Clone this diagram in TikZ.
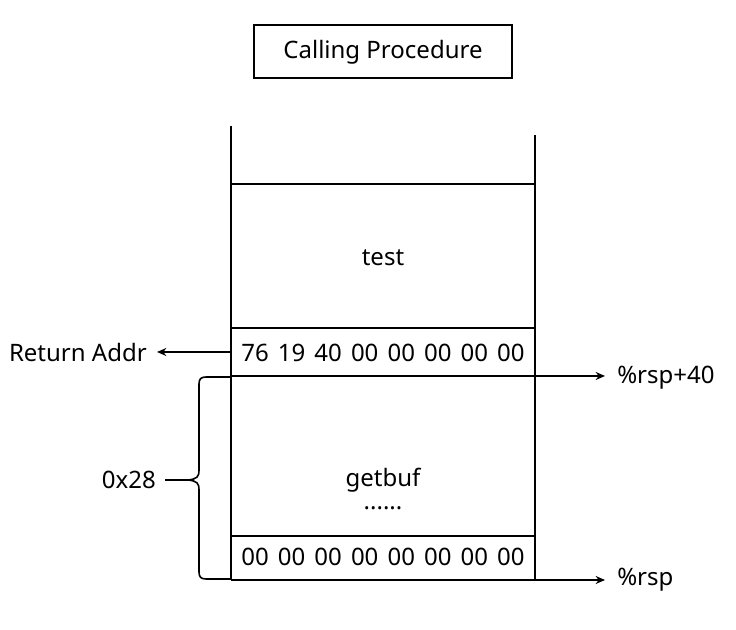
\documentclass[tikz,border=0pt]{standalone}
\usepackage{fontspec}
\setmainfont{Noto Sans}
\usetikzlibrary{arrows.meta}
\newcommand{\widebytes}[1]{{\spaceskip=6.8pt\relax #1}}
\begin{document}
\begin{tikzpicture}[x=0.75pt,y=-0.75pt,
  wall/.style={line width=1.5pt},
  arr/.style={line width=1.5pt,-{Stealth[length=7pt,width=6pt]}},
  txt/.style={font=\fontsize{18}{22}\selectfont,inner sep=0pt},
]
\useasboundingbox (0,0) rectangle (736,630);
% title
\node[draw,line width=1.5pt,minimum width=258*0.75pt,minimum height=53*0.75pt,font=\fontsize{18}{22}\selectfont] (title) at (383,52) {Calling Procedure};
% walls
\coordinate (lt) at (231,126);
\coordinate (rt) at (535,135);
\coordinate (lb) at (231,580);
\coordinate (rb) at (535,580);
\draw[wall] (lt) -- (lb);
\draw[wall] (rt) -- (rb);
% horizontal separators
\coordinate (l1) at (231,184); \coordinate (r1) at (535,184);
\coordinate (l2) at (231,328); \coordinate (r2) at (535,328);
\coordinate (l3) at (231,376); \coordinate (r3) at (535,376);
\coordinate (l4) at (231,536); \coordinate (r4) at (535,536);
\draw[wall] (l1) -- (r1);
\draw[wall] (l2) -- (r2);
\draw[wall] (l4) -- (r4);
% texts
\node[txt] (test) at (383,258) {test};
\node[txt] (ret) at (383,353) {\widebytes{76 19 40 00 00 00 00 00}};
\node[txt] (getbuf) at (383,480) {getbuf};
\node[txt] (dots) at (383,508) {......};
\node[txt] (zero) at (383,557) {\widebytes{00 00 00 00 00 00 00 00}};
\node[txt,anchor=east] (raddr) at (147,353) {Return Addr};
\node[txt,anchor=west] (rsp40) at (617,378) {\%rsp+40};
\node[txt,anchor=west] (rsp) at (617,580) {\%rsp};
\node[txt,anchor=east] (hex) at (156,480) {0x28};
% arrows
\coordinate (ra) at (231,352);
\coordinate (rae) at (157,352);
\draw[arr] (ra) -- (rae);
\coordinate (a40) at (605,376);
\coordinate (arsp) at (605,580);
\draw[arr] (l3) -- (a40);
\draw[arr] (lb) -- (arsp);
% brace
\coordinate (tip) at (188,480);
\draw[line width=1.2pt] (231,377) -- (206,377) .. controls (201,377) and (199,379) .. (199,384)
  -- (199,470) .. controls (199,477) and (197,479) .. (tip)
  .. controls (197,481) and (199,483) .. (199,490)
  -- (199,572) .. controls (199,577) and (201,579) .. (206,579) -- (231,579);
\draw[line width=1.2pt] (hex.east) ++(9,0) -- (tip);
\end{tikzpicture}
\end{document}
